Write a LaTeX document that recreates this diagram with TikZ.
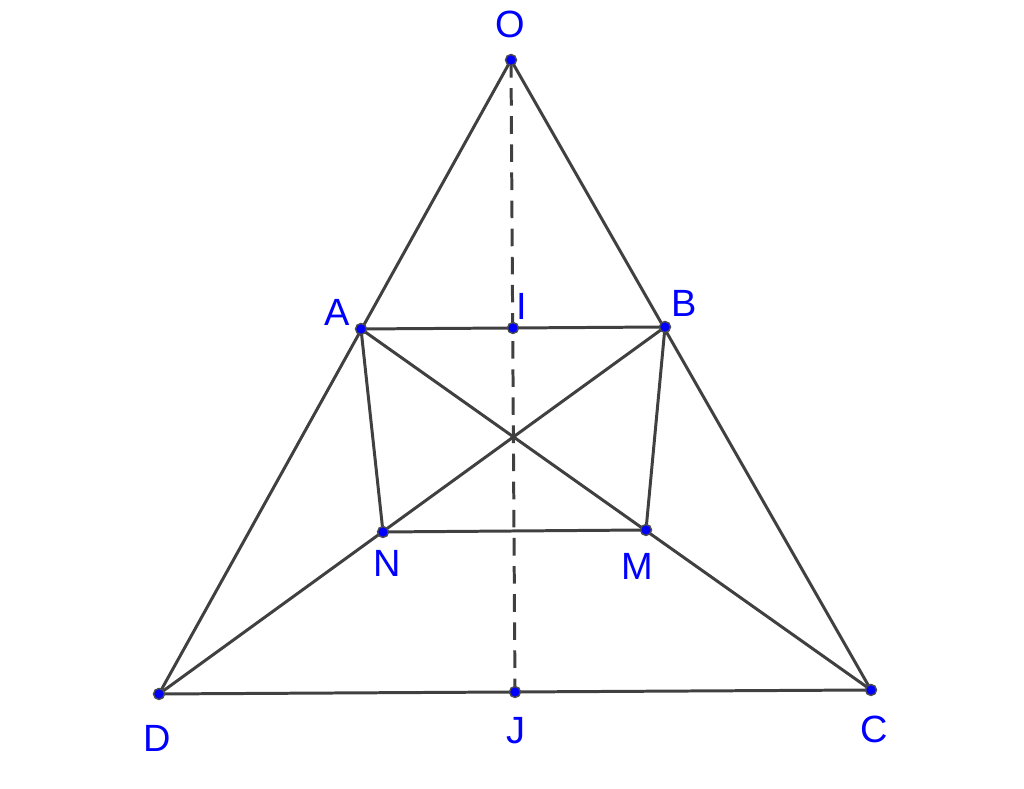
\documentclass[tikz,border=0pt]{standalone}
\usepackage{fontspec}
\setmainfont{Liberation Sans}
\definecolor{ptblue}{RGB}{0,0,255}
\definecolor{lngray}{RGB}{64,64,64}
\tikzset{
    seg/.style={draw=lngray, line width=0.85pt},
    lbl/.style={text=ptblue, font=\fontsize{10.8}{13}\selectfont, inner sep=0pt},
    pt/.style={fill=ptblue, draw=black!70, line width=0.4pt}
}
\begin{document}
\begin{tikzpicture}
        \useasboundingbox (0,0) rectangle (10.24,7.89);

        % Define points
        \foreach \name/\x/\y in {O/5.11/7.29, A/3.61/4.60, B/6.65/4.62, I/5.13/4.61, N/3.83/2.57, M/6.46/2.59, D/1.59/0.95, C/8.71/0.99, J/5.15/0.97}
            \coordinate (\name) at (\x,\y);

        % Draw the big triangle
        \draw[seg] (O) -- (D) -- (C) -- cycle;

        % Draw the inner quadrilateral
        \draw[seg] (A) -- (B) -- (M) -- (N) -- cycle;

        % Draw the diagonals
        \draw[seg] (A) -- (C);
        \draw[seg] (B) -- (D);

        % Symmetry axis
        \draw[seg, dashed, dash pattern=on 5pt off 3pt] (O) -- (J);

        % Draw the points
        \foreach \name in {O, A, B, I, N, M, D, C, J}
            \filldraw[pt] (\name) circle(0.055);

        % Labels
        \foreach \name/\x/\y in {O/5.10/7.65, A/3.37/4.77, I/5.22/4.83, B/6.84/4.86, N/3.87/2.26, M/6.37/2.23, D/1.57/0.51, J/5.16/0.58, C/8.74/0.60}
            \node[lbl] (l\name) at (\x,\y) {\name};
\end{tikzpicture}
\end{document}
